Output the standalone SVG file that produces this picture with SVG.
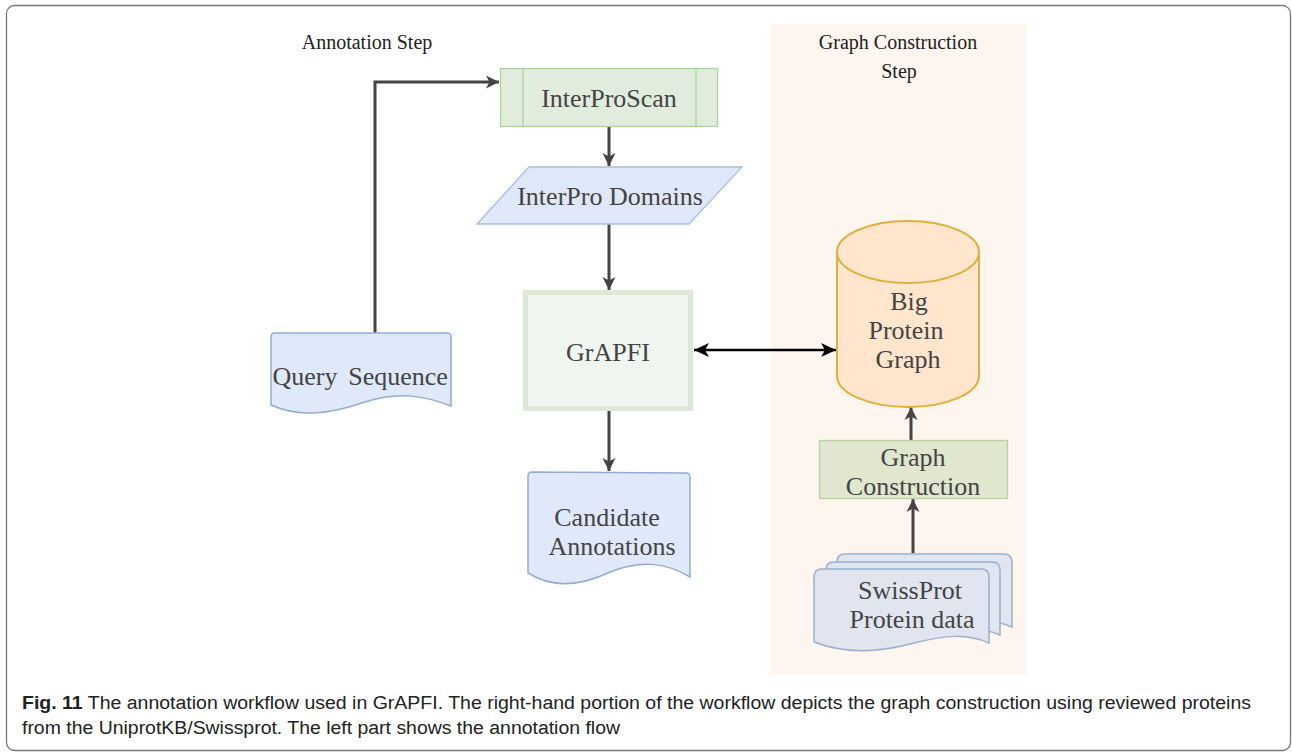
<svg xmlns="http://www.w3.org/2000/svg" width="1292" height="754" viewBox="0 0 1292 754">
<style>
.node{font-family:"Liberation Serif","Times New Roman",serif;font-size:26px;fill:#444;text-anchor:middle}
.title{font-family:"Liberation Serif","Times New Roman",serif;font-size:20px;fill:#222;text-anchor:middle}
.cap{font-family:"Liberation Sans",Arial,sans-serif;font-size:18px;fill:#222}
.conn{fill:none;stroke:#444;stroke-width:3}
</style>
<defs>
<marker id="arr" markerUnits="userSpaceOnUse" markerWidth="14" markerHeight="14" refX="13" refY="7" orient="auto">
<path d="M0,0.5 L13,7 L0,13.5 L3.5,7 Z" fill="#444"/>
</marker>
<marker id="arrB" markerUnits="userSpaceOnUse" markerWidth="16" markerHeight="16" refX="15" refY="8" orient="auto-start-reverse">
<path d="M0,1 L15,8 L0,15 L4,8 Z" fill="#000"/>
</marker>
</defs>
<rect x="0" y="0" width="1292" height="754" fill="#fff"/>
<rect x="6.5" y="5.5" width="1284" height="745" rx="8" fill="none" stroke="#777" stroke-width="1.3"/>
<rect x="771" y="24" width="255" height="651" fill="#fef5ef"/>
<g id="label-annotation"><text class="title" x="367" y="49">Annotation Step</text></g>
<g id="label-graph"><text class="title" x="898" y="49">Graph Construction</text><text class="title" x="899" y="78">Step</text></g>
<g id="connectors">
<polyline class="conn" points="375,333 375,82 499,82" marker-end="url(#arr)"/>
<line class="conn" x1="609" y1="126" x2="609" y2="166" marker-end="url(#arr)"/>
<line class="conn" x1="609" y1="224" x2="609" y2="290" marker-end="url(#arr)"/>
<line class="conn" x1="609" y1="411" x2="609" y2="471" marker-end="url(#arr)"/>
<line x1="694" y1="350" x2="836" y2="350" stroke="#000" stroke-width="2.5" marker-start="url(#arrB)" marker-end="url(#arrB)"/>
<line class="conn" x1="911" y1="440" x2="911" y2="407" marker-end="url(#arr)"/>
<line class="conn" x1="913" y1="553" x2="913" y2="499" marker-end="url(#arr)"/>
</g>
<g id="interproscan">
<rect x="500.5" y="68.5" width="217" height="58" fill="#e0ecdc" stroke="#a9d49a" stroke-width="1.3"/>
<line x1="523" y1="68.5" x2="523" y2="126.5" stroke="#a9d49a" stroke-width="1.3"/>
<line x1="696" y1="68.5" x2="696" y2="126.5" stroke="#a9d49a" stroke-width="1.3"/>
<text class="node" x="609" y="107">InterProScan</text>
</g>
<g id="interpro-domains">
<polygon points="529,167 742,167 689,224 477,224" fill="#dfe8f8" stroke="#a6bfe3" stroke-width="1.3"/>
<text class="node" x="610" y="205">InterPro Domains</text>
</g>
<g id="grapfi">
<rect x="525.5" y="292.5" width="165" height="116" fill="#f0f5f0" stroke="#dce9d6" stroke-width="5"/>
<text class="node" x="608" y="361">GrAPFI</text>
</g>
<g id="query-sequence">
<path d="M275,333 L447,333 Q451,333 451,337 L451,406 C425,396 400,391 365,402 C330,414 300,418 271,405 L271,337 Q271,333 275,333 Z" fill="#dfe9f9" stroke="#93acd4" stroke-width="1.5"/>
<text class="node" x="305" y="385">Query</text>
<text class="node" x="398" y="385">Sequence</text>
</g>
<g id="candidate-annotations">
<path d="M532,472 L686,473 Q690,473 690,477 L690,577 C665,562 640,560 610,572 C585,584 555,590 528,573 L528,476 Q528,472 532,472 Z" fill="#dfe9f9" stroke="#93acd4" stroke-width="1.5"/>
<text class="node" x="607" y="526">Candidate</text>
<text class="node" x="612" y="555">Annotations</text>
</g>
<g id="big-protein-graph">
<path d="M837,252 L837,376 A71,31 0 0 0 979,376 L979,252" fill="#ffe6cd" stroke="#e0b03c" stroke-width="2"/>
<ellipse cx="908" cy="252" rx="71" ry="31" fill="#ffe6cd" stroke="#e0b03c" stroke-width="2"/>
<text class="node" x="909" y="310">Big</text>
<text class="node" x="906" y="339">Protein</text>
<text class="node" x="908" y="368">Graph</text>
</g>
<g id="graph-construction">
<rect x="819.5" y="440.5" width="188" height="58" fill="#e1e6cf" stroke="#b5d49f" stroke-width="1.3"/>
<text class="node" x="913" y="466">Graph</text>
<text class="node" x="913" y="495">Construction</text>
</g>
<g id="swissprot">
<path d="M845,554 L1004,554 Q1012,554 1012,562 L1012,627 C990,618 970,618 930,628 C890,640 860,640 837,628 L837,562 Q837,554 845,554 Z" fill="#e0e5ef" stroke="#9ab0cf" stroke-width="1.5"/>
<path d="M834,562 L992,562 Q1000,562 1000,570 L1000,635 C978,626 958,626 918,636 C878,648 848,648 826,636 L826,570 Q826,562 834,562 Z" fill="#e0e5ef" stroke="#9ab0cf" stroke-width="1.5"/>
<path d="M822,569 L981,569 Q989,569 989,577 L989,643 C968,634 948,634 910,644 C872,654 840,652 814,642 L814,577 Q814,569 822,569 Z" fill="#e0e5ef" stroke="#9ab0cf" stroke-width="1.5"/>
<text class="node" x="910" y="599">SwissProt</text>
<text class="node" x="912" y="628">Protein data</text>
</g>
<g id="caption">
<text class="cap" x="22" y="709" textLength="1229" lengthAdjust="spacingAndGlyphs"><tspan font-weight="bold">Fig. 11</tspan> The annotation workflow used in GrAPFI. The right-hand portion of the workflow depicts the graph construction using reviewed proteins</text>
<text class="cap" x="22" y="734" textLength="598" lengthAdjust="spacingAndGlyphs">from the UniprotKB/Swissprot. The left part shows the annotation flow</text>
</g>
</svg>
